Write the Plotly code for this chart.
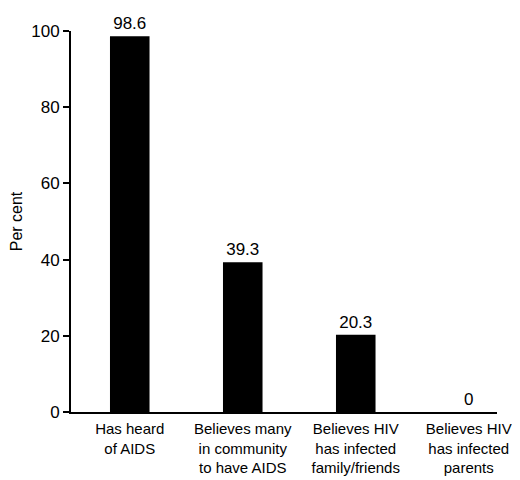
import plotly.graph_objects as go

categories = ["Has heard<br>of AIDS", "Believes many<br>in community<br>to have AIDS",
              "Believes HIV<br>has infected<br>family/friends", "Believes HIV<br>has infected<br>parents"]
values = [98.6, 39.3, 20.3, 0]
value_labels = ["98.6", "39.3", "20.3", "0"]
y_ticks = [0, 20, 40, 60, 80, 100]

FONT = "Liberation Sans, Arial, sans-serif"
xs = list(range(len(categories)))

fig = go.Figure(go.Bar(
    x=xs, y=values, width=0.35, marker=dict(color="black", line=dict(width=0)),
    text=value_labels, textposition="outside", cliponaxis=False,
    textfont=dict(family=FONT, size=17, color="black"),
))
# page body has an 8px margin, compensate in figure margins
fig.update_layout(
    width=520, height=480, margin=dict(l=63, r=31, t=23, b=76),
    plot_bgcolor="white", paper_bgcolor="white", showlegend=False,
    font=dict(family=FONT, size=17, color="black"),
)
fig.update_xaxes(range=[-0.52, 3.25], tickvals=xs, ticktext=categories,
                 showline=True, linecolor="black", linewidth=2, ticks="",
                 showgrid=False, zeroline=False, automargin=False,
                 ticklabelstandoff=2,
                 tickfont=dict(family=FONT, size=15, color="black"))
fig.update_yaxes(range=[0, 100], tickvals=y_ticks, showline=True, linecolor="black",
                 linewidth=2, ticks="outside", ticklen=6, tickwidth=1.5, tickcolor="black",
                 showgrid=False, zeroline=False, automargin=False,
                 title=dict(text="Per cent", font=dict(family=FONT, size=16), standoff=16),
                 tickfont=dict(family=FONT, size=17, color="black"))
fig.write_html("out.html")
